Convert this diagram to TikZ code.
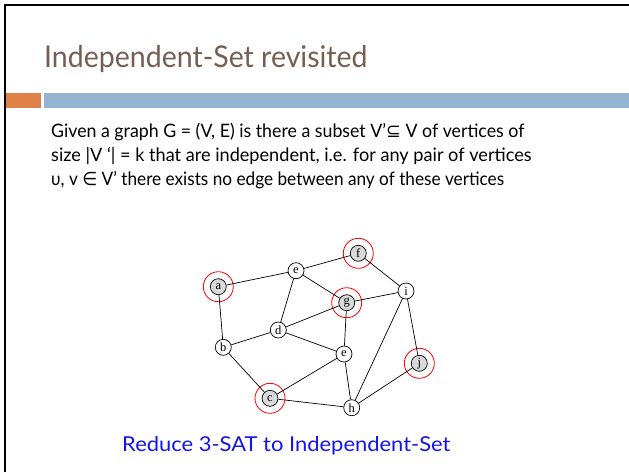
\documentclass[tikz,border=0pt]{standalone}
\usepackage{fontspec}
\usepackage{graphicx}
\setmainfont{Lato}
\newfontfamily\symfont{DejaVu Sans}
\newfontfamily\vtxfont{Liberation Serif}
\definecolor{titlecol}{RGB}{117,95,85}
\definecolor{barorange}{RGB}{224,130,72}
\definecolor{barblue}{RGB}{147,179,209}
\definecolor{linkblue}{RGB}{20,20,235}
\definecolor{vfill}{RGB}{217,217,217}
\tikzset{
  vtx/.style={circle,draw=black,line width=0.7pt,fill=white,inner sep=0pt,minimum size=16pt,font=\vtxfont\fontsize{12.5}{12.5}\selectfont},
  chosen/.style={vtx,fill=vfill},
  ring/.style={circle,draw=red,line width=0.8pt,minimum size=30pt,inner sep=0pt},
  edge/.style={line width=0.7pt,black},
  bodytext/.style={anchor=base west,inner sep=0pt,font=\fontsize{18.5}{18.5}\selectfont}
}
\begin{document}
\begin{tikzpicture}[x=1pt,y=-1pt]
\useasboundingbox (0,0) rectangle (629,472);
\fill[white] (0,0) rectangle (629,472);
% frame
\draw[line width=2pt,black] (5,472) -- (5,5) -- (629,5);
% bars
\fill[barorange] (6,93) rectangle (41,108);
\fill[barblue] (44,93) rectangle (629,108);
% title
\node[anchor=base west,inner sep=0pt,text=titlecol,font=\fontsize{30}{30}\selectfont] (title) at (44,67) {\scalebox{0.95}[1]{Independent-Set revisited}};
% body
\node[bodytext] (l1) at (51,137) {\scalebox{0.96}[1]{Given a graph G = (V, E) is there a subset V’{\symfont ⊆} V of vertices of}};
\node[bodytext] (l2) at (51,161) {\scalebox{0.98}[1]{size |V ‘| = k that are independent, i.e. for any pair of vertices}};
\node[bodytext] (l3) at (51,185) {\scalebox{0.93}[1]{υ, v {\symfont ∈} V’ there exists no edge between any of these vertices}};
% graph
\node[ring] (ra) at (218.3,286.7) {};
\node[ring] (rf) at (358.3,253.3) {};
\node[ring] (rg) at (346.7,302.7) {};
\node[ring] (rj) at (419.3,363.3) {};
\node[ring] (rc) at (270,398.3) {};
\node[chosen] (a) at (218.3,286.7) {a};
\node[vtx] (e1) at (296,270.7) {e};
\node[chosen] (f) at (358.3,253.3) {f};
\node[vtx] (i) at (406,291) {i};
\node[chosen] (g) at (346.7,302.7) {g};
\node[vtx] (d) at (278.3,330) {d};
\node[vtx] (b) at (223.3,347.3) {b};
\node[vtx] (e2) at (344,354) {e};
\node[chosen] (j) at (419.3,363.3) {j};
\node[chosen] (c) at (270,398.3) {c};
\node[vtx] (h) at (351.7,407.7) {h};
\draw[edge] (a)--(e1) (a)--(b) (e1)--(f) (e1)--(g) (e1)--(d) (f)--(i) (i)--(g) (i)--(j) (i)--(h)
  (g)--(d) (g)--(e2) (d)--(b) (d)--(e2) (b)--(c) (c)--(e2) (c)--(h) (e2)--(h) (h)--(j);
% footer
\node[anchor=base west,inner sep=0pt,text=linkblue,font=\fontsize{20.5}{20.5}\selectfont] (red) at (122,451.5) {\scalebox{1.07}[1]{Reduce 3-SAT to Independent-Set}};
\end{tikzpicture}
\end{document}
